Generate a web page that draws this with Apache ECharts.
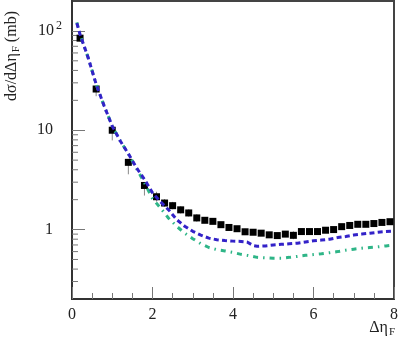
<!DOCTYPE html>
<html>
<head>
<meta charset="utf-8">
<script src="https://cdn.jsdelivr.net/npm/echarts@6/dist/echarts.min.js"></script>
<style>
  html, body { margin: 0; padding: 0; background: #fff; }
  #myChart { width: 401px; height: 344px; }
</style>
</head>
<body>
<div id="myChart"></div>
<script>
// measured points (black squares) with error bars
var etaData = [0.2, 0.6, 1.0, 1.4, 1.8, 2.1, 2.3, 2.5, 2.7, 2.9, 3.1, 3.3, 3.5, 3.7, 3.9, 4.1, 4.3, 4.5, 4.7, 4.9,
  5.1, 5.3, 5.5, 5.7, 5.9, 6.1, 6.3, 6.5, 6.7, 6.9, 7.1, 7.3, 7.5, 7.7, 7.9];
var sigmaData = [84.5, 26, 10, 4.75, 2.78, 2.14, 1.85, 1.74, 1.58, 1.47, 1.31, 1.24, 1.21, 1.12, 1.05, 1.02, 0.95, 0.94, 0.92, 0.885,
  0.87, 0.90, 0.875, 0.955, 0.955, 0.955, 0.985, 1.0, 1.07, 1.10, 1.13, 1.13, 1.15, 1.18, 1.20];
var sigmaLo = [78, 22, 7.9, 3.6, 2.2, 1.91, 1.69, 1.6, 1.45, 1.35, 1.2, 1.16, 1.13, 1.04, 0.98, 0.96, 0.88, 0.89, 0.87, 0.83,
  0.83, 0.85, 0.80, 0.91, 0.90, 0.89, 0.94, 0.97, 1.03, 1.06, 1.09, 1.09, 1.11, 1.14, 1.16];
var sigmaHi = [90, 27.5, 10.7, 5.1, 3.0, 2.4, 2.03, 1.9, 1.72, 1.6, 1.43, 1.32, 1.29, 1.2, 1.13, 1.08, 1.02, 0.99, 0.97, 0.94,
  0.91, 0.95, 0.96, 1.0, 1.01, 1.03, 1.03, 1.03, 1.11, 1.14, 1.17, 1.17, 1.19, 1.22, 1.24];

// model curves
var curveEta = [0.12, 0.2, 0.4, 0.6, 0.8, 1.0, 1.2, 1.4, 1.6, 1.8, 2.0, 2.2, 2.4, 2.6, 2.8, 3.0, 3.2, 3.4, 3.6, 3.8, 4.0,
  4.2, 4.35, 4.5, 4.6, 4.8, 5.0, 5.2, 5.4, 5.6, 5.8, 6.0, 6.2, 6.4, 6.6, 6.8, 7.0, 7.2, 7.4, 7.6, 7.8, 8.0];
var blueCurve = [120, 92, 54, 29, 17.5, 11, 7.8, 5.8, 4.2, 3.2, 2.35, 1.9, 1.58, 1.26, 1.08, 0.96, 0.88, 0.82, 0.79, 0.775, 0.765,
  0.76, 0.75, 0.69, 0.68, 0.685, 0.70, 0.71, 0.72, 0.73, 0.75, 0.77, 0.785, 0.80, 0.83, 0.85, 0.88, 0.90, 0.92, 0.94, 0.955, 0.965];
var greenCurve = [122, 92, 54, 29, 17.5, 11, 7.8, 5.8, 4.15, 2.95, 2.05, 1.65, 1.3, 1.08, 0.92, 0.81, 0.72, 0.66, 0.627, 0.61, 0.59,
  0.563, 0.55, 0.535, 0.525, 0.52, 0.515, 0.515, 0.525, 0.537, 0.55, 0.56, 0.57, 0.585, 0.6, 0.62, 0.635, 0.65, 0.66, 0.67, 0.685, 0.70];

// axes
var xTicks = [0, 2, 4, 6, 8];
var yLabels = [1, 10, 100];
var yMin = 0.2, yMax = 200;

var font = 'Liberation Serif';

function pairs(xs, ys) {
  return xs.map(function (x, i) { return [x, ys[i]]; });
}

// minor ticks of the log axis: 2..9 in every decade
var yMinor = [];
for (var p = -1; p <= 2; p++) {
  for (var m = 2; m <= 9; m++) {
    var v = m * Math.pow(10, p);
    if (v > yMin && v < yMax) yMinor.push(v);
  }
}

var myChart = echarts.init(document.getElementById('myChart'));
myChart.setOption({
  animation: false,
  grid: {
    left: 72, right: 5, top: 1, bottom: 45,
    show: true, borderColor: '#444', borderWidth: 2
  },
  xAxis: {
    type: 'value',
    min: xTicks[0], max: xTicks[xTicks.length - 1], interval: 2,
    axisLine: { lineStyle: { color: '#333', width: 2 } },
    axisTick: { inside: true, length: 12, lineStyle: { color: '#777', width: 1 } },
    minorTick: { show: true, splitNumber: 4, length: 6, lineStyle: { color: '#777', width: 1 } },
    axisLabel: { margin: 8, fontFamily: font, fontSize: 16, color: '#222' },
    splitLine: { show: false }
  },
  yAxis: {
    type: 'log', logBase: 10,
    min: yMin, max: yMax,
    axisLine: { lineStyle: { color: '#333', width: 2 } },
    axisTick: { inside: true, length: 13, lineStyle: { color: '#777', width: 1 } },
    axisLabel: {
      margin: 10,
      showMinLabel: false, showMaxLabel: false,
      fontFamily: font, fontSize: 16, color: '#222',
      formatter: function (value) {
        var r = Math.round(value);
        if (yLabels.indexOf(r) < 0 || Math.abs(value - r) > 1e-6) return '';
        if (r === 100) return '{n|10}{s|2}';
        return '{n|' + r + '}{g| }';
      },
      rich: {
        n: { fontFamily: font, fontSize: 16, color: '#222' },
        s: { fontFamily: font, fontSize: 12, color: '#222', padding: [0, 0, 10, 2] },
        g: { width: 9 }
      }
    },
    splitLine: { show: false }
  },
  graphic: [
    {
      type: 'text', x: 12, y: 56, rotation: Math.PI / 2,
      style: {
        text: '{a|dσ/dΔη}{b|F}{a| (mb)}',
        align: 'center', verticalAlign: 'middle',
        rich: {
          a: { fontFamily: font, fontSize: 16, fill: '#222' },
          b: { fontFamily: font, fontSize: 11, fill: '#222', padding: [8, 0, 0, 1] }
        }
      }
    },
    {
      type: 'text', right: 6, top: 320,
      style: {
        text: '{a|Δη}{b|F}',
        rich: {
          a: { fontFamily: font, fontSize: 16, fill: '#222' },
          b: { fontFamily: font, fontSize: 11, fill: '#222', padding: [8, 0, 0, 1] }
        }
      }
    }
  ],
  series: [
    {
      // minor ticks on the y axis
      type: 'custom',
      silent: true,
      clip: false,
      data: yMinor.map(function (v) { return [xTicks[0], v]; }),
      renderItem: function (params, api) {
        var pt = api.coord([api.value(0), api.value(1)]);
        return {
          type: 'line',
          shape: { x1: pt[0], y1: pt[1], x2: pt[0] + 6, y2: pt[1] },
          style: { stroke: '#777', lineWidth: 1 }
        };
      }
    },
    {
      type: 'line',
      data: pairs(curveEta, greenCurve),
      showSymbol: false,
      lineStyle: { color: '#2eb587', width: 3, type: [5, 5, 1.5, 5] }
    },
    {
      type: 'line',
      data: pairs(curveEta, blueCurve),
      showSymbol: false,
      lineStyle: { color: '#3322c8', width: 3, type: [5, 3.3] }
    },
    {
      // error bars
      type: 'custom',
      silent: true,
      data: etaData.map(function (x, i) { return [x, sigmaLo[i], sigmaHi[i]]; }),
      renderItem: function (params, api) {
        var lo = api.coord([api.value(0), api.value(1)]);
        var hi = api.coord([api.value(0), api.value(2)]);
        return {
          type: 'line',
          shape: { x1: lo[0], y1: lo[1], x2: hi[0], y2: hi[1] },
          style: { stroke: '#888', lineWidth: 1 }
        };
      }
    },
    {
      type: 'scatter',
      data: pairs(etaData, sigmaData),
      symbol: 'rect',
      symbolSize: 7,
      itemStyle: { color: '#000', opacity: 1 }
    }
  ]
});
</script>
</body>
</html>
